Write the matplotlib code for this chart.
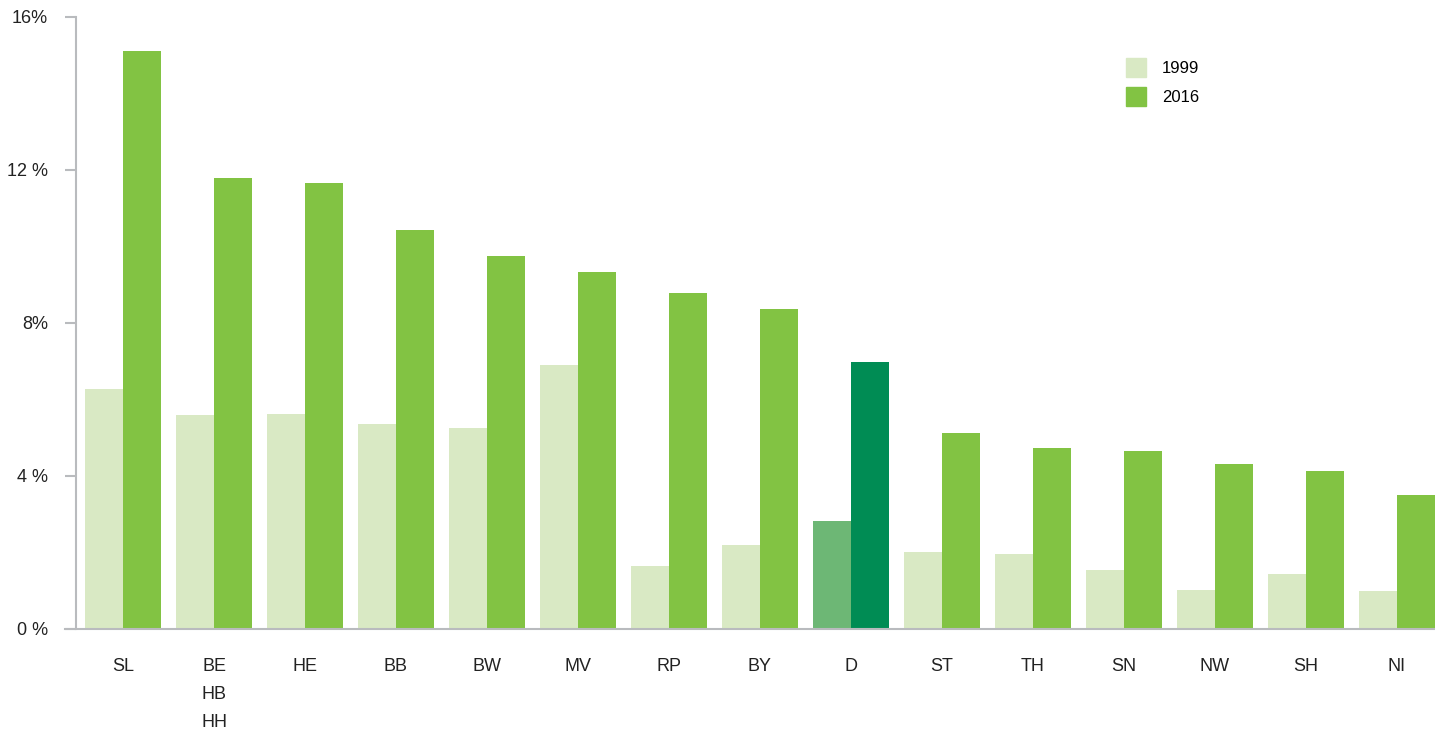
import numpy as np
import matplotlib.pyplot as plt
from matplotlib.patches import Patch

plt.rcParams['font.family'] = ['Liberation Sans', 'DejaVu Sans']

# data
laender = ["SL", "BE\nHB\nHH", "HE", "BB", "BW", "MV", "RP", "BY", "D",
           "ST", "TH", "SN", "NW", "SH", "NI"]
werte_1999 = [6.25, 5.57, 5.6, 5.34, 5.23, 6.9, 1.64, 2.19, 2.81,
              2.0, 1.95, 1.53, 1.0, 1.42, 0.98]
werte_2016 = [15.1, 11.77, 11.64, 10.43, 9.73, 9.31, 8.76, 8.34, 6.96,
              5.1, 4.71, 4.63, 4.3, 4.11, 3.49]
y_ticks = [0, 4, 8, 12, 16]
y_labels = ["0 %", "4 %", "8%", "12 %", "16%"]

hell = "#d9e9c4"
gruen = "#82c343"
d_hell = "#6db775"
d_dunkel = "#008c54"
grau = "#b9bbbe"

x = np.arange(len(laender))
w = 0.42

farben_1999 = [d_hell if l == "D" else hell for l in laender]
farben_2016 = [d_dunkel if l == "D" else gruen for l in laender]

fig = plt.figure(figsize=(14.35, 7.3), dpi=100)
ax = fig.add_axes([76 / 1435, 101.5 / 730, 1 - 76 / 1435, 612 / 730])

ax.bar(x - w / 2, werte_1999, width=w, color=farben_1999, linewidth=0)
ax.bar(x + w / 2, werte_2016, width=w, color=farben_2016, linewidth=0)

ax.set_xlim(-0.517, len(laender) - 1 + w)
ax.set_ylim(0, 16)

ax.set_yticks(y_ticks)
ax.set_yticklabels(y_labels, fontsize=13, color="#222222")
ax.tick_params(axis="y", length=8, width=1.5, color=grau, pad=12)

ax.set_xticks(x)
ax.set_xticklabels(laender, fontsize=13, color="#222222", linespacing=1.85, va="top")
ax.tick_params(axis="x", length=0, pad=21)

for s in ["top", "right"]:
    ax.spines[s].set_visible(False)
for s in ["left", "bottom"]:
    ax.spines[s].set_color(grau)
    ax.spines[s].set_linewidth(1.5)
ax.spines["bottom"].set_bounds(-0.517 - 11 / 90.9, len(laender) - 1 + w)
ax.spines["bottom"].set_clip_on(False)

handles = [Patch(color=hell, label="1999"), Patch(color=gruen, label="2016")]
ax.legend(handles=handles, loc="upper left", bbox_to_anchor=(1111 / 1435, 1 - 43 / 730),
          bbox_transform=fig.transFigure, frameon=False, fontsize=12,
          handlelength=1.2, handleheight=1.42, labelspacing=0.55, handletextpad=0.95)

fig.savefig("out.png", dpi=100)
